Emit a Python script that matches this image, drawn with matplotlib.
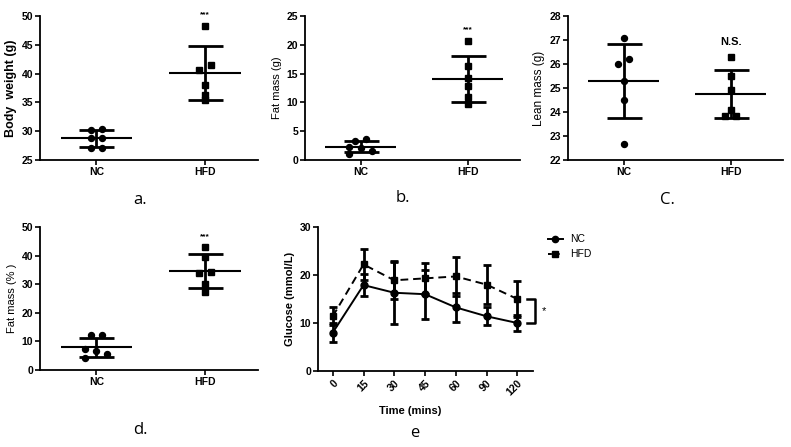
import numpy as np
import matplotlib
matplotlib.use('Agg')
import matplotlib.pyplot as plt
from matplotlib.lines import Line2D

plt.rcParams['font.family'] = ['Liberation Sans', 'DejaVu Sans']

W, H = 791, 447

groups = ['NC', 'HFD']

# a. body weight (g)
bw_nc = [30.2, 30.4, 28.8, 28.9, 27.0, 27.1]
bw_hfd = [48.3, 40.7, 41.5, 38.0, 36.3, 35.4]
# b. fat mass (g)
fm_nc = [3.3, 3.7, 2.3, 2.0, 1.6, 1.05]
fm_hfd = [20.7, 16.4, 14.2, 12.9, 10.9, 9.7]
# c. lean mass (g)
lm_nc = [27.08, 26.0, 26.2, 25.3, 24.5, 22.65]
lm_hfd = [26.3, 25.5, 24.9, 24.1, 23.85, 23.85]
# d. fat mass (%)
fp_nc = [12.1, 12.1, 7.4, 6.6, 5.5, 4.1]
fp_hfd = [43.0, 39.5, 33.8, 34.4, 30.1, 27.2]

# e. glucose tolerance
times = ['0', '15', '30', '45', '60', '90', '120']
gl_nc_mean = [8.0, 17.9, 16.3, 16.0, 13.25, 11.4, 10.0]
gl_nc_sd = [1.9, 2.35, 6.6, 5.1, 3.05, 1.9, 1.6]
gl_hfd_mean = [11.4, 22.2, 18.9, 19.3, 19.7, 18.0, 15.0]
gl_hfd_sd = [1.9, 3.2, 3.8, 3.2, 4.0, 4.1, 3.8]

# horizontal scatter of overlapping points
jit_a = ([-0.05, 0.05, -0.05, 0.05, -0.05, 0.05], [0, -0.055, 0.055, 0, 0, 0])
jit_b = ([-0.05, 0.053, -0.108, 0, 0.108, -0.108], [0, 0, 0, 0, 0, 0])
jit_c = ([0, -0.055, 0.053, 0, 0, 0], [0, 0, 0, 0, -0.055, 0.053])
jit_d = ([-0.053, 0.05, -0.105, 0, 0.102, -0.105], [0, 0, -0.055, 0.053, 0, 0])


def rect(l, r, t, b):
    return [l / W, 1 - b / H, (r - l) / W, (b - t) / H]


def style_axes(ax):
    for s in ['top', 'right']:
        ax.spines[s].set_visible(False)
    for s in ['left', 'bottom']:
        ax.spines[s].set_linewidth(1.3)
    ax.tick_params(width=1.2, length=3.5, labelsize=7.5, pad=1.5)
    for lab in ax.get_xticklabels() + ax.get_yticklabels():
        lab.set_fontweight('bold')


def dot_panel(ax, nc, hfd, jit, ylim, yticks, ylabel, sig, sig_y, ylabel_size=8, ylabel_bold=False):
    for i, (vals, mk) in enumerate([(nc, 'o'), (hfd, 's')]):
        vals = np.array(vals)
        xs = i + np.array(jit[i])
        ax.plot(xs, vals, mk, color='black', ms=4.3, zorder=3, clip_on=False)
        m, sd = vals.mean(), vals.std(ddof=1)
        ax.hlines(m, i - 0.33, i + 0.33, color='black', lw=1.5)
        ax.errorbar(i, m, yerr=sd, fmt='none', ecolor='black', elinewidth=2,
                    capsize=12.6, capthick=2)
    ax.set_xlim(-0.52, 1.49)
    ax.set_ylim(*ylim)
    ax.set_yticks(yticks)
    ax.set_xticks([0, 1])
    ax.set_xticklabels(groups)
    ax.set_ylabel(ylabel, fontsize=ylabel_size, fontweight='bold' if ylabel_bold else 'normal', labelpad=3)
    ax.text(1, sig_y, sig, ha='center', va='center', fontweight='bold',
            fontsize=8 if sig == 'N.S.' else 6)
    style_axes(ax)


fig = plt.figure(figsize=(W / 100, H / 100), dpi=100)

ax_a = fig.add_axes(rect(40, 258, 16, 160))
dot_panel(ax_a, bw_nc, bw_hfd, jit_a, (25, 50), range(25, 51, 5), 'Body  weight (g)', '***', 50.3,
          ylabel_size=9, ylabel_bold=True)
ax_b = fig.add_axes(rect(305, 520, 16, 160))
dot_panel(ax_b, fm_nc, fm_hfd, jit_b, (0, 25), range(0, 26, 5), 'Fat mass (g)', '***', 22.6)
ax_c = fig.add_axes(rect(568, 783, 16, 160))
dot_panel(ax_c, lm_nc, lm_hfd, jit_c, (22, 28), range(22, 29), 'Lean mass (g)', 'N.S.', 26.9,
          ylabel_size=8.5)
ax_d = fig.add_axes(rect(40, 258, 227, 370))
dot_panel(ax_d, fp_nc, fp_hfd, jit_d, (0, 50), range(0, 51, 10), 'Fat mass (% )', '***', 46.5)

# e. glucose curve
ax_e = fig.add_axes(rect(318, 533, 227, 371))
x = np.arange(len(times))
ax_e.errorbar(x, gl_hfd_mean, yerr=gl_hfd_sd, color='black', ls='--', lw=1.4, dashes=(4, 2.5),
              marker='s', ms=5, elinewidth=2, capsize=2.9, capthick=2, zorder=3)
ax_e.errorbar(x, gl_nc_mean, yerr=gl_nc_sd, color='black', ls='-', lw=1.4,
              marker='o', ms=5, elinewidth=2, capsize=2.9, capthick=2, zorder=3)
ax_e.set_xlim(-0.48, 6.51)
ax_e.set_ylim(0, 30)
ax_e.set_yticks([0, 10, 20, 30])
ax_e.set_xticks(x)
ax_e.set_xticklabels(times, rotation=45, ha='right', rotation_mode='anchor')
ax_e.set_ylabel('Glucose (mmol/L)', fontsize=8, fontweight='bold', labelpad=3)
ax_e.set_xlabel('Time (mins)', fontsize=8, fontweight='bold', labelpad=4)
ax_e.xaxis.set_label_coords(0.43, -0.24)
style_axes(ax_e)

# significance bracket
last = len(times) - 1
bx0, bx1 = last + 0.32, last + 0.58
ax_e.plot([bx0, bx1, bx1, bx0], [gl_hfd_mean[-1], gl_hfd_mean[-1], gl_nc_mean[-1], gl_nc_mean[-1]],
          color='black', lw=1.8, clip_on=False)
ax_e.text(last + 0.86, (gl_hfd_mean[-1] + gl_nc_mean[-1]) / 2, '*', fontsize=8, ha='center', va='center')

leg_handles = [Line2D([0], [0], color='black', lw=1.4, marker='o', ms=4.5),
               Line2D([0], [0], color='black', lw=1.4, ls='--', dashes=(2, 2), marker='s', ms=4.5)]
ax_e.legend(leg_handles, groups, loc='upper left', bbox_to_anchor=(544 / W, 1 - 230 / H),
            bbox_transform=fig.transFigure, frameon=False, fontsize=7.5, handlelength=1.4,
            handletextpad=0.7, labelspacing=0.5, borderaxespad=0)

# panel letters
for txt, px, py in [('a.', 140, 200), ('b.', 403, 198), ('C.', 667, 200), ('d.', 140, 430), ('e', 415, 433)]:
    fig.text(px / W, 1 - py / H, txt, fontsize=12, ha='center', va='center', family='Open Sans')

fig.savefig('out.png', dpi=100)
